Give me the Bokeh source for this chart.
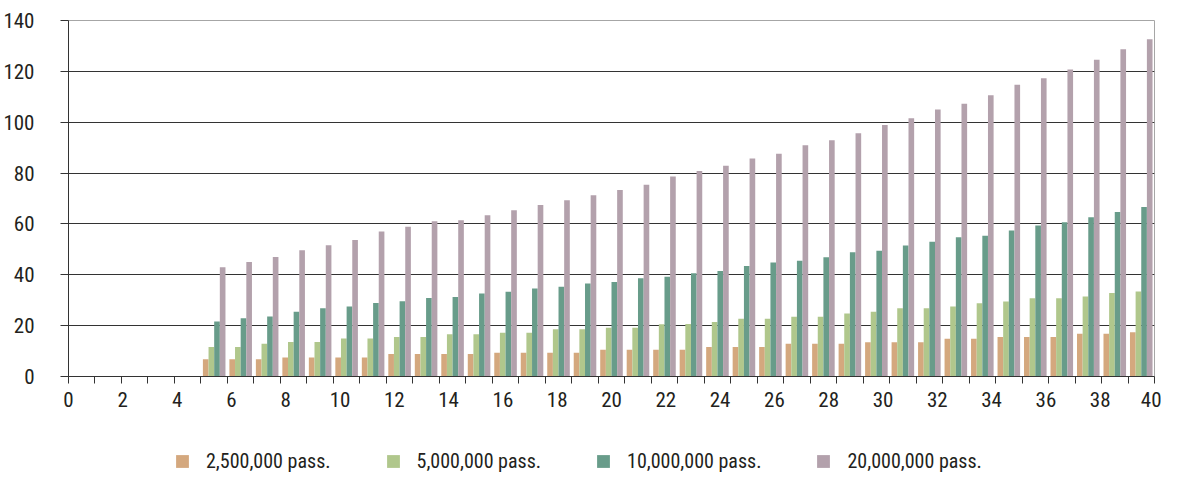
from bokeh.plotting import figure
from bokeh.layouts import column
from bokeh.models import (Range1d, FixedTicker, Legend, LegendItem, ColumnDataSource)
from bokeh.transform import dodge
from bokeh.embed import file_html
from bokeh.resources import INLINE

# ---------------- data ----------------
categories = list(range(5, 41))

pass_2_5m = [6.8, 6.8, 6.8, 7.5, 7.5, 7.5, 7.5, 8.8, 8.8, 8.8, 8.8, 9.3, 9.3, 9.3, 9.3,
             10.5, 10.5, 10.5, 10.5, 11.6, 11.6, 11.6, 12.9, 12.9, 12.9, 13.5, 13.5, 13.5,
             14.8, 14.8, 15.5, 15.5, 15.5, 16.8, 16.8, 17.4]
pass_5m = [11.6, 11.6, 12.9, 13.6, 13.6, 14.9, 14.9, 15.5, 15.5, 16.6, 16.6, 17.2, 17.2,
           18.6, 18.6, 19.2, 19.2, 20.5, 20.6, 21.4, 22.7, 22.7, 23.5, 23.5, 24.8, 25.5,
           26.8, 26.8, 27.5, 28.8, 29.5, 30.8, 30.8, 31.5, 32.8, 33.4]
pass_10m = [21.6, 22.9, 23.6, 25.5, 26.8, 27.5, 28.9, 29.6, 30.9, 31.3, 32.6, 33.3, 34.6,
            35.3, 36.6, 37.2, 38.6, 39.2, 40.6, 41.5, 43.5, 44.8, 45.5, 46.9, 48.9, 49.5,
            51.5, 53.0, 54.8, 55.4, 57.4, 59.4, 60.7, 62.6, 64.7, 66.7]
pass_20m = [43.0, 45.0, 47.0, 49.6, 51.6, 53.7, 57.0, 58.9, 61.1, 61.4, 63.4, 65.4, 67.4,
            69.3, 71.3, 73.3, 75.4, 78.7, 80.8, 82.9, 85.7, 87.6, 90.9, 92.9, 95.7, 98.9,
            101.6, 105.0, 107.3, 110.6, 114.7, 117.3, 120.7, 124.6, 128.7, 132.6]

series_names = ["2,500,000 pass.", "5,000,000 pass.", "10,000,000 pass.", "20,000,000 pass."]
series_values = [pass_2_5m, pass_5m, pass_10m, pass_20m]
series_colors = ["#D4A87E", "#B0C78C", "#689C8A", "#B3A1AC"]

x_tick_labels = list(range(0, 41, 2))
y_ticks = list(range(0, 141, 20))
n_slots = 41  # category slots 0..40

FONT = "'Roboto Condensed', 'Liberation Sans Narrow', 'DejaVu Sans Condensed', sans-serif"
TXT = "#231f20"

data = dict(x=categories)
for name, vals in zip(series_names, series_values):
    data[name] = vals
source = ColumnDataSource(data)

# ---------------- main figure ----------------
p = figure(width=1161, height=416, output_backend="svg", toolbar_location=None,
           x_range=Range1d(-0.5, n_slots - 0.5), y_range=Range1d(0, 140),
           min_border_left=61, min_border_right=7, min_border_top=20, min_border_bottom=40)
p.background_fill_color = "white"
p.border_fill_color = "white"
p.outline_line_color = "#a6a6a6"
p.outline_line_width = 1

bar_w = 0.213
offsets = [-1.5 * bar_w, -0.5 * bar_w, 0.5 * bar_w, 1.5 * bar_w]
for name, col, off in zip(series_names, series_colors, offsets):
    p.vbar(x=dodge("x", off, range=p.x_range), top=name, width=bar_w, bottom=0,
           source=source, fill_color=col, line_color=None)

# x axis: labels spread linearly 0..40 across the frame, tick marks at slot borders
label_pos = [-0.5 + v * n_slots / 40 for v in x_tick_labels]
xt = FixedTicker(ticks=label_pos, minor_ticks=[k - 0.5 for k in range(n_slots + 1)])
p.xaxis.ticker = xt
p.xaxis.major_label_overrides = {pos: str(v) for pos, v in zip(label_pos, x_tick_labels)}
p.xaxis.major_tick_out = 0
p.xaxis.major_tick_in = 0
p.xaxis.minor_tick_out = 7
p.xaxis.minor_tick_in = 0
p.xaxis.minor_tick_line_color = "#333333"
p.xaxis.axis_line_color = "#333333"
p.xaxis.major_label_standoff = 8

p.yaxis.ticker = FixedTicker(ticks=y_ticks)
p.yaxis.major_tick_out = 8
p.yaxis.major_tick_in = 0
p.yaxis.minor_tick_line_color = None
p.yaxis.axis_line_color = "#333333"
p.yaxis.major_tick_line_color = "#333333"
p.yaxis.major_label_standoff = 26

for ax in (p.xaxis, p.yaxis):
    ax.major_label_text_font = FONT
    ax.major_label_text_font_size = "21px"
    ax.major_label_text_color = TXT

p.xgrid.grid_line_color = None
p.ygrid.ticker = FixedTicker(ticks=y_ticks[1:-1])
p.ygrid.grid_line_color = "#333333"
p.ygrid.grid_line_width = 1

# ---------------- legend strip (same data, lying outside its visible ranges) ----------------
pl = figure(width=1161, height=57, output_backend="svg", toolbar_location=None,
            x_axis_type=None, y_axis_type=None,
            x_range=Range1d(-1000, -999), y_range=Range1d(1000, 1001),
            min_border_left=61, min_border_right=7, min_border_top=0, min_border_bottom=0)
pl.outline_line_color = None
pl.xgrid.grid_line_color = None
pl.ygrid.grid_line_color = None
leg_renderers = []
for name, col in zip(series_names, series_colors):
    r = pl.vbar(x="x", top=name, width=bar_w, bottom=0, source=source,
                fill_color=col, line_color=None)
    leg_renderers.append(r)

legend = Legend(items=[LegendItem(label=n, renderers=[r]) for n, r in zip(series_names, leg_renderers)],
                orientation="horizontal", location=(106, 0),
                label_text_font=FONT, label_text_font_size="20px", label_text_color=TXT,
                glyph_width=16, glyph_height=16, label_standoff=16, spacing=54,
                padding=0, margin=0, border_line_color=None, background_fill_alpha=0)
pl.add_layout(legend)

layout = column(p, pl, spacing=0)
open("out.html", "w").write(file_html(layout, INLINE))
